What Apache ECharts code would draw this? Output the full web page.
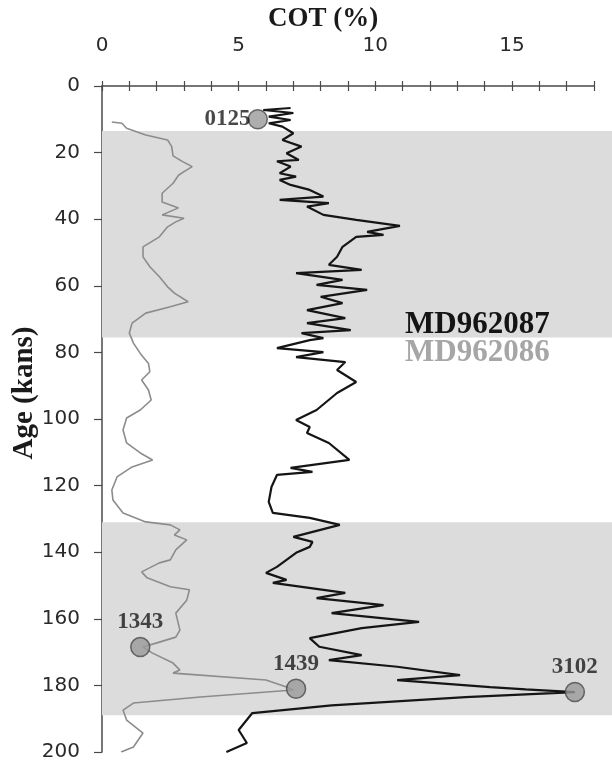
<!DOCTYPE html>
<html>
<head>
<meta charset="utf-8">
<script src="https://cdn.jsdelivr.net/npm/echarts@6/dist/echarts.min.js"></script>
<style>
  html, body { margin: 0; padding: 0; background: #ffffff; }
  #chart { width: 612px; height: 769px; }
</style>
</head>
<body>
<div id="chart"></div>
<script>
// Core MD962087: age (ka) and COT (%)
const age087 = [6.6, 7.2, 8.1, 9.2, 10.2, 11.2, 12.2, 14.2, 16.2, 18.2, 20.2, 22.2, 22.6, 24.2, 26.2, 27.2, 28.2, 29.7, 31.2, 33.2,
  34.2, 35.2, 36.2, 38.7, 40.2, 42.0, 43.8, 44.7, 45.3, 48.3, 51.3, 53.7, 55.2, 56.2, 58.2, 59.7, 61.2, 63.3, 65.2, 67.3,
  69.7, 71.2, 73.3, 74.2, 75.7, 76.3, 78.7, 79.9, 81.4, 82.9, 85.3, 88.9, 92.2, 97.3, 100.3, 102.4, 104.2, 107.2, 112.3, 114.7,
  115.9, 116.8, 120.4, 124.9, 128.2, 129.7, 131.8, 135.4, 136.9, 138.4, 140.2, 144.4, 146.2, 148.3, 149.2, 152.2, 153.8, 155.9, 158.3, 160.9,
  162.8, 165.8, 168.4, 170.9, 172.4, 174.4, 176.9, 178.4, 180.5, 181.2, 182.0, 183.5, 186.0, 188.3, 193.4, 197.3, 200.0];
const cot087 = [6.9, 5.9, 7.0, 6.1, 6.9, 6.1, 6.6, 7.0, 6.6, 7.3, 6.75, 7.2, 6.4, 6.9, 6.5, 7.1, 6.5, 6.9, 7.6, 8.1,
  6.5, 8.3, 7.5, 8.1, 9.3, 10.9, 9.7, 10.3, 9.3, 8.8, 8.6, 8.3, 9.5, 7.1, 8.8, 7.85, 9.7, 8.0, 8.8, 7.5,
  8.9, 7.5, 9.1, 7.3, 8.1, 7.6, 6.4, 8.1, 7.1, 8.9, 8.6, 9.3, 8.6, 7.85, 7.1, 7.6, 7.5, 8.3, 9.05, 6.9,
  7.7, 6.4, 6.2, 6.1, 6.25, 7.6, 8.7, 7.0, 7.7, 7.6, 7.1, 6.4, 6.0, 6.75, 6.25, 8.9, 7.85, 10.3, 8.4, 11.6,
  9.5, 7.6, 7.95, 9.5, 8.3, 10.8, 13.1, 10.8, 14.2, 15.5, 17.3, 13.3, 8.4, 5.5, 5.0, 5.3, 4.55];

// Core MD962086: age (ka) and COT (%)
const age086 = [10.8, 11.2, 12.7, 14.7, 16.2, 18.2, 21.0, 22.7, 24.2, 25.7, 26.8, 29.2, 32.2, 34.8, 36.6, 38.7, 39.7, 40.8, 42.3, 45.3,
  48.3, 51.3, 54.3, 57.3, 60.3, 62.2, 64.8, 66.3, 68.2, 71.2, 74.2, 77.2, 80.3, 83.3, 85.8, 88.3, 91.3, 94.3, 97.3, 99.7,
  103.3, 107.2, 110.2, 112.3, 114.4, 117.4, 121.3, 124.3, 128.2, 130.9, 131.8, 133.3, 134.8, 136.3, 139.3, 142.3, 143.2, 145.9, 147.7, 150.4,
  151.3, 154.4, 158.3, 163.4, 165.5, 167.0, 168.5, 170.3, 173.3, 175.4, 176.3, 178.4, 180.5, 181.4, 183.5, 185.3, 187.4, 190.4, 194.3, 198.5, 200.0];
const cot086 = [0.36, 0.73, 0.9, 1.6, 2.4, 2.55, 2.6, 2.95, 3.3, 3.0, 2.8, 2.6, 2.2, 2.2, 2.8, 2.2, 3.0, 2.7, 2.4, 2.1,
  1.5, 1.5, 1.75, 2.1, 2.4, 2.65, 3.15, 2.5, 1.6, 1.1, 1.0, 1.15, 1.4, 1.7, 1.75, 1.45, 1.7, 1.8, 1.4, 0.9,
  0.77, 0.9, 1.4, 1.85, 1.1, 0.55, 0.36, 0.4, 0.77, 1.6, 2.5, 2.85, 2.65, 3.1, 2.7, 2.5, 2.1, 1.45, 1.65, 2.5,
  3.2, 3.1, 2.7, 2.85, 2.7, 2.1, 1.5, 1.85, 2.6, 2.85, 2.6, 6.0, 6.75, 7.0, 3.6, 1.15, 0.77, 0.9, 1.5, 1.15, 0.7];

// Dated samples
const sampleIds = ['0125', '1343', '1439', '3102'];
const sampleCot = [5.7, 1.4, 7.1, 17.3];
const sampleAge = [10, 168.5, 181, 182];

// Shaded age intervals (ka)
const bandStart = [13.5, 131];
const bandEnd = [75.5, 189];

// Axis ticks
const cotMin = 0, cotMax = 18, cotStep = 1, cotLabelStep = 5;
const ageMin = 0, ageMax = 200, ageStep = 20;

const zip = (xs, ys) => xs.map((x, i) => [x, ys[i]]);

const serif = 'Liberation Serif';
const sans = 'DejaVu Sans';
const axisColor = '#4a4a4a';

const chart = echarts.init(document.getElementById('chart'));

chart.setOption({
  animation: false,
  backgroundColor: '#ffffff',
  grid: [
    { left: 102, top: 86, width: 492, height: 666 },
    { left: 102, top: 86, right: 0, height: 666 }
  ],
  xAxis: [
    {
      gridIndex: 0, type: 'value', position: 'top',
      min: cotMin, max: cotMax, interval: cotStep,
      axisLine: { show: true, lineStyle: { color: axisColor, width: 1.5 } },
      axisTick: { show: true, length: 5, lineStyle: { color: axisColor, width: 1.2 } },
      splitLine: { show: false },
      axisLabel: {
        margin: 30, fontFamily: sans, fontSize: 20, color: '#2a2a2a',
        formatter: v => (v % cotLabelStep === 0 ? String(v) : '')
      }
    },
    {
      gridIndex: 0, type: 'value', position: 'top',
      min: cotMin, max: cotMax, interval: cotStep,
      axisLine: { show: false },
      axisTick: { show: true, inside: true, length: 5, lineStyle: { color: axisColor, width: 1.2 } },
      axisLabel: { show: false },
      splitLine: { show: false }
    },
    {
      gridIndex: 1, type: 'value', min: 0, max: 1, show: false
    }
  ],
  yAxis: [
    {
      gridIndex: 0, type: 'value', inverse: true,
      min: ageMin, max: ageMax, interval: ageStep,
      axisLine: { show: true, lineStyle: { color: axisColor, width: 1.5 } },
      axisTick: { show: true, length: 8, lineStyle: { color: axisColor, width: 1.2 } },
      splitLine: { show: false },
      axisLabel: { margin: 22, fontFamily: sans, fontSize: 20, color: '#2a2a2a' }
    },
    {
      gridIndex: 1, type: 'value', inverse: true, min: ageMin, max: ageMax, show: false
    }
  ],
  series: [
    {
      type: 'line', xAxisIndex: 2, yAxisIndex: 1, data: [], z: 0, silent: true,
      markArea: {
        silent: true,
        itemStyle: { color: '#dcdcdc' },
        data: bandStart.map((s, i) => [{ yAxis: s }, { yAxis: bandEnd[i] }])
      }
    },
    {
      name: 'MD962086', type: 'line', xAxisIndex: 0, yAxisIndex: 0,
      data: zip(cot086, age086), showSymbol: false, smooth: false, z: 3,
      lineStyle: { color: '#8c8c8c', width: 1.6 }
    },
    {
      name: 'MD962087', type: 'line', xAxisIndex: 0, yAxisIndex: 0,
      data: zip(cot087, age087), showSymbol: false, smooth: false, z: 4,
      lineStyle: { color: '#151515', width: 2.2 }
    },
    {
      type: 'scatter', xAxisIndex: 0, yAxisIndex: 0, z: 6,
      symbolSize: 19,
      itemStyle: { color: '#9a9a9a', borderColor: '#4a4a4a', borderWidth: 1.5 },
      data: sampleIds.map((id, i) => ({
        name: id,
        value: [sampleCot[i], sampleAge[i]],
        label: {
          show: true, formatter: id,
          position: i === 0 ? 'left' : 'top',
          distance: i === 0 ? -3 : 3,
          fontFamily: serif, fontWeight: 'bold', fontSize: 23, color: '#1a1a1a'
        }
      }))
    }
  ],
  graphic: [
    {
      type: 'text', x: 323, y: 19, z: 10,
      style: {
        text: 'COT (%)', font: 'bold 27px "Liberation Serif"', fill: '#1a1a1a',
        align: 'center', verticalAlign: 'middle'
      }
    },
    {
      type: 'text', x: 25, y: 393, rotation: Math.PI / 2, z: 10,
      style: {
        text: 'Age (kans)', font: 'bold 29px "Liberation Serif"', fill: '#1a1a1a',
        align: 'center', verticalAlign: 'middle'
      }
    },
    {
      type: 'text', x: 405, y: 325, z: 10,
      style: {
        text: 'MD962087', font: 'bold 31px "Liberation Serif"', fill: '#141414',
        align: 'left', verticalAlign: 'middle'
      }
    },
    {
      type: 'text', x: 405, y: 353, z: 10,
      style: {
        text: 'MD962086', font: 'bold 31px "Liberation Serif"', fill: '#a6a6a6',
        align: 'left', verticalAlign: 'middle'
      }
    }
  ]
});
</script>
</body>
</html>
